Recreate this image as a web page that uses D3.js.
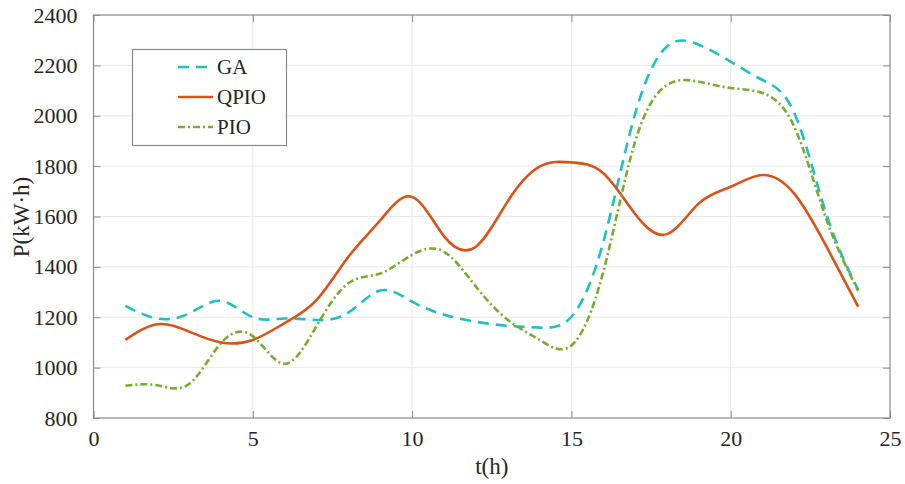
<!DOCTYPE html>
<html>
<head>
<meta charset="utf-8">
<script src="https://cdn.jsdelivr.net/npm/d3@7"></script>
<style>
  html, body { margin: 0; padding: 0; background: #fff; }
  svg { display: block; }
  text { font-family: "Liberation Serif", "Times New Roman", serif; fill: #262626; }
</style>
</head>
<body>
<svg id="chart" width="905" height="484"></svg>
<script>
// Hourly power profiles (kW·h)
const hours = d3.range(1, 25);
const gaValues = [1245, 1195, 1215, 1265, 1200, 1195, 1189, 1218, 1306, 1262, 1210, 1182,
                  1166, 1159, 1202, 1498, 2008, 2275, 2282, 2215, 2142, 2010, 1610, 1310];
const qpioValues = [1110, 1172, 1143, 1100, 1110, 1177, 1268, 1440, 1585, 1678, 1522, 1480,
                    1660, 1798, 1815, 1772, 1610, 1530, 1652, 1718, 1765, 1690, 1482, 1242];
const pioValues = [928, 930, 935, 1097, 1125, 1015, 1165, 1335, 1374, 1448, 1460, 1322,
                   1190, 1110, 1088, 1380, 1897, 2122, 2135, 2110, 2090, 1955, 1590, 1305];
const xTicks = [0, 5, 10, 15, 20, 25];
const yTicks = [800, 1000, 1200, 1400, 1600, 1800, 2000, 2200, 2400];
const seriesNames = ["GA", "QPIO", "PIO"];

const series = [
  { name: seriesNames[0], values: gaValues, color: "#1fbfc2", dash: "11,7" },
  { name: seriesNames[1], values: qpioValues, color: "#d95319", dash: null },
  { name: seriesNames[2], values: pioValues, color: "#77ac30", dash: "7,3,2,3" }
];

const svg = d3.select("#chart");
const plotL = 93.5, plotR = 890, plotT = 15, plotB = 418;

const x = d3.scaleLinear().domain([0, 25]).range([plotL, plotR]);
const y = d3.scaleLinear().domain([800, 2400]).range([plotB, plotT]);

// grid
const grid = svg.append("g").attr("stroke", "#e8e8e8").attr("stroke-width", 1);
grid.selectAll(".gx").data(xTicks.slice(1, -1)).enter().append("line")
  .attr("x1", d => x(d)).attr("x2", d => x(d)).attr("y1", plotT).attr("y2", plotB);
grid.selectAll(".gy").data(yTicks.slice(1, -1)).enter().append("line")
  .attr("y1", d => y(d)).attr("y2", d => y(d)).attr("x1", plotL).attr("x2", plotR);

// lines
const line = d3.line().x((d, i) => x(hours[i])).y(d => y(d)).curve(d3.curveNatural);
svg.append("g").selectAll("path").data(series).enter().append("path")
  .attr("d", d => line(d.values))
  .attr("fill", "none")
  .attr("stroke", d => d.color)
  .attr("stroke-width", 2.6)
  .attr("stroke-dasharray", d => d.dash);

// axes with inward ticks
const tickLen = 7;
const axisStyle = g => {
  g.select(".domain").remove();
  g.selectAll(".tick line").attr("stroke", "#8a8a8a");
  g.selectAll(".tick text").attr("font-size", 22).attr("fill", "#262626")
    .attr("font-family", "Liberation Serif, Times New Roman, serif");
};
svg.append("g").attr("transform", `translate(0,${plotB})`)
  .call(d3.axisBottom(x).tickValues(xTicks).tickSize(-tickLen).tickPadding(12).tickFormat(d3.format("d")))
  .call(axisStyle);
svg.append("g").attr("transform", `translate(0,${plotT})`)
  .call(d3.axisTop(x).tickValues(xTicks).tickSize(-tickLen).tickFormat(""))
  .call(axisStyle);
svg.append("g").attr("transform", `translate(${plotL},0)`)
  .call(d3.axisLeft(y).tickValues(yTicks).tickSize(-tickLen).tickPadding(16).tickFormat(d3.format("d")))
  .call(axisStyle);
svg.append("g").attr("transform", `translate(${plotR},0)`)
  .call(d3.axisRight(y).tickValues(yTicks).tickSize(-tickLen).tickFormat(""))
  .call(axisStyle);

// frame
svg.append("rect").attr("x", plotL).attr("y", plotT)
  .attr("width", plotR - plotL).attr("height", plotB - plotT)
  .attr("fill", "none").attr("stroke", "#8a8a8a").attr("stroke-width", 1.2);

// axis titles
svg.append("text").attr("x", (plotL + plotR) / 2).attr("y", 474)
  .attr("text-anchor", "middle").attr("font-size", 23).text("t(h)");
svg.append("text").attr("transform", "translate(29,217) rotate(-90)")
  .attr("text-anchor", "middle").attr("font-size", 23).text("P(kW·h)");

// legend
const lg = svg.append("g");
lg.append("rect").attr("x", 132.5).attr("y", 49.5).attr("width", 154).attr("height", 96)
  .attr("fill", "#fff").attr("stroke", "#8a8a8a").attr("stroke-width", 1.2);
const rows = lg.selectAll(".row").data(series).enter().append("g")
  .attr("transform", (d, i) => `translate(0,${67 + i * 30})`);
rows.append("line").attr("x1", 178).attr("x2", 213).attr("y1", 0).attr("y2", 0)
  .attr("stroke", d => d.color).attr("stroke-width", 2.6)
  .attr("stroke-dasharray", d => d.dash);
rows.append("text").attr("x", 217).attr("y", 7).attr("font-size", 21).text(d => d.name);
</script>
</body>
</html>
